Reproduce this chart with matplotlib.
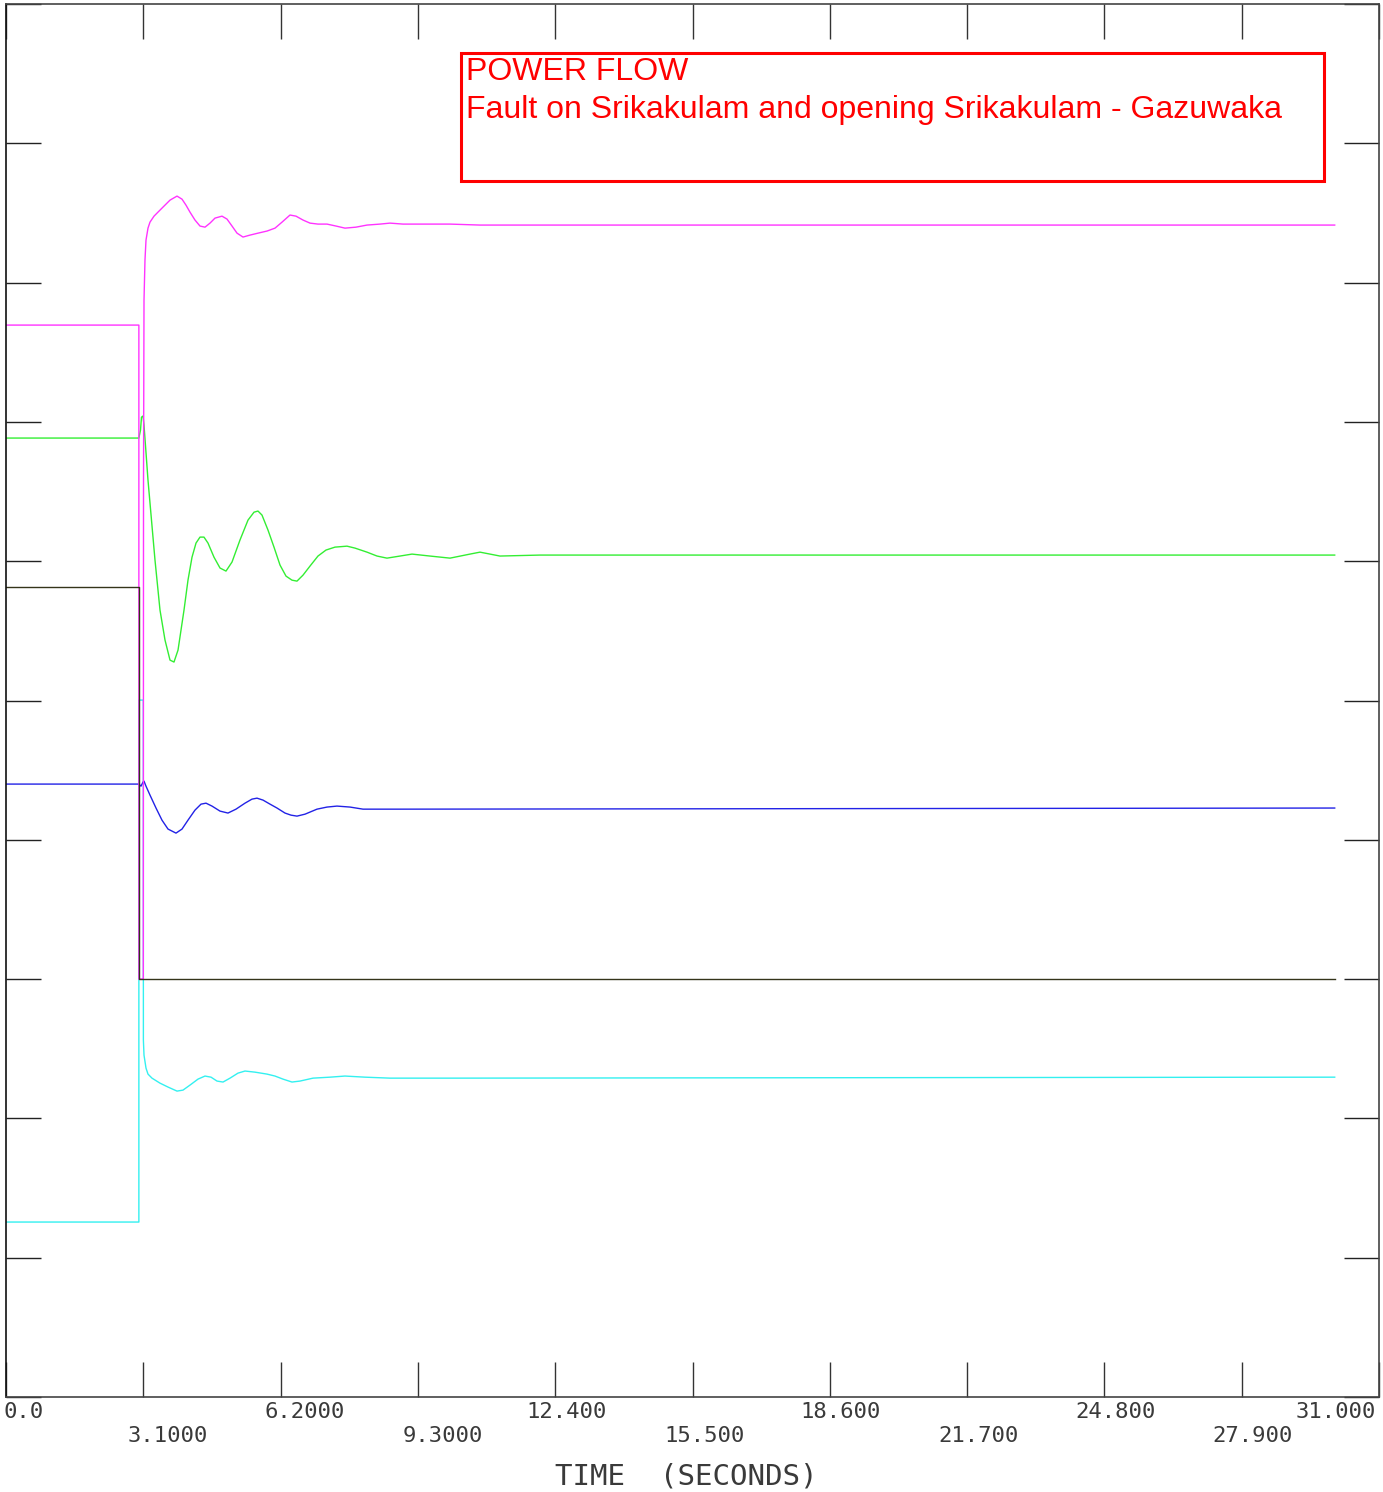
import matplotlib
matplotlib.use("Agg")
import matplotlib.pyplot as plt
import matplotlib.transforms as mtransforms
from matplotlib.patches import Rectangle

# time (s) and flow (MW)
mag_t = [0, 3.0, 3.0, 3.1, 3.105, 3.116, 3.138, 3.161, 3.206, 3.251, 3.342, 3.432, 3.567, 3.703, 3.861,
         3.974, 4.064, 4.154, 4.267, 4.380, 4.493, 4.606, 4.719, 4.877, 4.990, 5.103, 5.216, 5.351, 5.509,
         5.690, 5.893, 6.074, 6.232, 6.412, 6.548, 6.706, 6.864, 7.044, 7.248, 7.451, 7.654, 7.902, 8.151,
         8.444, 8.670, 8.964, 9.280, 10.025, 10.702, 30.0]
mag_v = [469.5, 469.5, 0, 0, 358.2, 487.4, 516.2, 530.5, 539.1, 543.4, 547.7, 550.6, 554.9, 559.2, 562.1,
         559.9, 555.6, 550.6, 544.9, 540.6, 539.8, 542.7, 546.3, 547.7, 545.6, 540.6, 535.5, 532.7, 534.1,
         535.5, 537.0, 539.1, 543.4, 548.5, 547.7, 544.9, 542.7, 542.0, 542.0, 540.6, 539.1, 539.8, 541.3,
         542.0, 542.7, 542.0, 542.0, 542.0, 541.3, 541.3]

grn_t = [0, 3.0, 3.037, 3.059, 3.093, 3.116, 3.206, 3.364, 3.477, 3.590, 3.703, 3.793, 3.884, 4.019,
         4.109, 4.200, 4.290, 4.380, 4.470, 4.561, 4.696, 4.832, 4.967, 5.103, 5.283, 5.464, 5.600, 5.690,
         5.780, 5.916, 6.051, 6.187, 6.322, 6.457, 6.570, 6.706, 6.864, 7.044, 7.225, 7.428, 7.699, 7.880,
         8.151, 8.377, 8.602, 8.896, 9.167, 9.573, 10.025, 10.476, 10.702, 11.154, 12.057, 30.0]
grn_v = [388.4, 388.4, 394.1, 403.4, 404.2, 397.7, 358.2, 300.8, 264.9, 243.4, 229.0, 227.6, 236.2, 264.9,
         286.4, 302.9, 313.0, 317.3, 317.3, 313.0, 302.9, 295.1, 292.9, 299.4, 315.2, 329.5, 335.2, 336.0,
         333.1, 322.3, 310.1, 297.2, 289.3, 286.4, 285.7, 290.0, 296.5, 303.7, 308.0, 310.1, 310.8, 309.4,
         306.5, 303.7, 302.2, 303.7, 305.1, 303.7, 302.2, 305.1, 306.5, 303.7, 304.4, 304.4]

blu_t = [0, 3.0, 3.048, 3.093, 3.116, 3.161, 3.251, 3.387, 3.522, 3.658, 3.838, 3.974, 4.109, 4.267,
         4.403, 4.516, 4.651, 4.832, 5.012, 5.193, 5.396, 5.554, 5.667, 5.803, 5.961, 6.119, 6.299, 6.435,
         6.570, 6.751, 7.022, 7.248, 7.473, 7.767, 8.061, 8.896, 30.0]
blu_v = [140.0, 140.0, 138.5, 141.4, 142.1, 138.5, 132.1, 122.8, 114.1, 107.7, 104.8, 107.7, 114.1, 121.3,
         125.6, 126.3, 124.2, 120.6, 119.2, 122.0, 126.3, 129.2, 129.9, 128.5, 125.6, 122.8, 119.2, 117.7,
         117.0, 118.4, 122.0, 123.5, 124.2, 123.5, 122.0, 122.0, 122.8]

cyn_t = [0, 3.0, 3.0, 3.1, 3.102, 3.116, 3.161, 3.206, 3.296, 3.477, 3.658, 3.861, 3.996, 4.154, 4.335,
         4.493, 4.629, 4.764, 4.900, 5.058, 5.238, 5.396, 5.622, 5.893, 6.074, 6.254, 6.457, 6.638, 6.932,
         7.315, 7.654, 8.106, 8.670, 10.025, 30.0]
cyn_v = [-174.4, -174.4, 200.3, 200.3, -43.8, -54.6, -63.9, -68.2, -71.1, -74.7, -77.5, -80.4, -79.7,
         -76.1, -71.8, -69.6, -70.4, -73.2, -73.9, -71.1, -67.5, -66.0, -66.8, -68.2, -69.6, -71.8, -73.9,
         -73.2, -71.1, -70.4, -69.6, -70.4, -71.1, -71.1, -70.4]

blk_t = [0, 3.0, 3.0, 30.0]
blk_v = [281.4, 281.4, 0, 0]

xticks = [0.0, 3.1, 6.2, 9.3, 12.4, 15.5, 18.6, 21.7, 24.8, 27.9, 31.0]
xlabels = ["0.0", "3.1000", "6.2000", "9.3000", "12.400", "15.500", "18.600", "21.700", "24.800",
           "27.900", "31.000"]
# horizontal shift of each label (pixels), the plotting package placed them oddly
xlab_dx = [18, 24, 24, 25, 11, 12, 11, 11, 11, 11, -43]

W, H = 1383, 1492
fig = plt.figure(figsize=(W / 100, H / 100), dpi=100)
ax = fig.add_axes([6 / W, 1 - 1397 / H, (1379 - 6) / W, (1397 - 4) / H])

ax.plot(cyn_t, cyn_v, color="#33f0f0", lw=1.0)
ax.plot(blu_t, blu_v, color="#2222e6", lw=1.0)
ax.plot(grn_t, grn_v, color="#33ee33", lw=1.0)
ax.plot(mag_t, mag_v, color="#ff33ff", lw=1.0)
ax.plot(blk_t, blk_v, color="#34341a", lw=1.0)

ax.set_xlim(0, 31)
ax.set_ylim(-300, 700)
ax.set_xticks(xticks)
ax.set_yticks(range(-300, 701, 100))
ax.tick_params(axis="x", direction="in", length=25, width=1, color="#333333",
               top=True, bottom=True, labelbottom=False)
ax.tick_params(axis="y", direction="in", length=25, width=1, color="#222222",
               left=True, right=True, labelleft=False)
for s in ax.spines.values():
    s.set_color("#444444")
    s.set_linewidth(1.2)
ax.spines["left"].set_color("#111111")

# staggered tick labels
trans = ax.get_xaxis_transform()
for i, (t, lab) in enumerate(zip(xticks, xlabels)):
    tr = mtransforms.offset_copy(trans, fig=fig, x=xlab_dx[i], y=-15 if i % 2 == 0 else -39, units="dots")
    ax.text(t, 0, lab, transform=tr, ha="center", va="center", fontsize=16,
            family="DejaVu Sans Mono", color="#3a3a3a")

fig.text(686 / W, 1 - 1476 / H, "TIME  (SECONDS)", ha="center", va="center", fontsize=21,
         family="DejaVu Sans Mono", color="#3a3a3a")

# title box
fig.patches.append(Rectangle((461 / W, 1 - 181 / H), (1324 - 461) / W, (181 - 53) / H,
                             transform=fig.transFigure, fill=False, edgecolor="#ff0000", lw=2.2))
fig.text(466 / W, 1 - 72 / H, "POWER FLOW", ha="left", va="center", fontsize=23,
         family="Liberation Sans", color="#ff0000")
fig.text(466 / W, 1 - 110 / H, "Fault on Srikakulam and opening Srikakulam - Gazuwaka", ha="left",
         va="center", fontsize=23, family="Liberation Sans", color="#ff0000")

fig.savefig("out.png", dpi=100)
